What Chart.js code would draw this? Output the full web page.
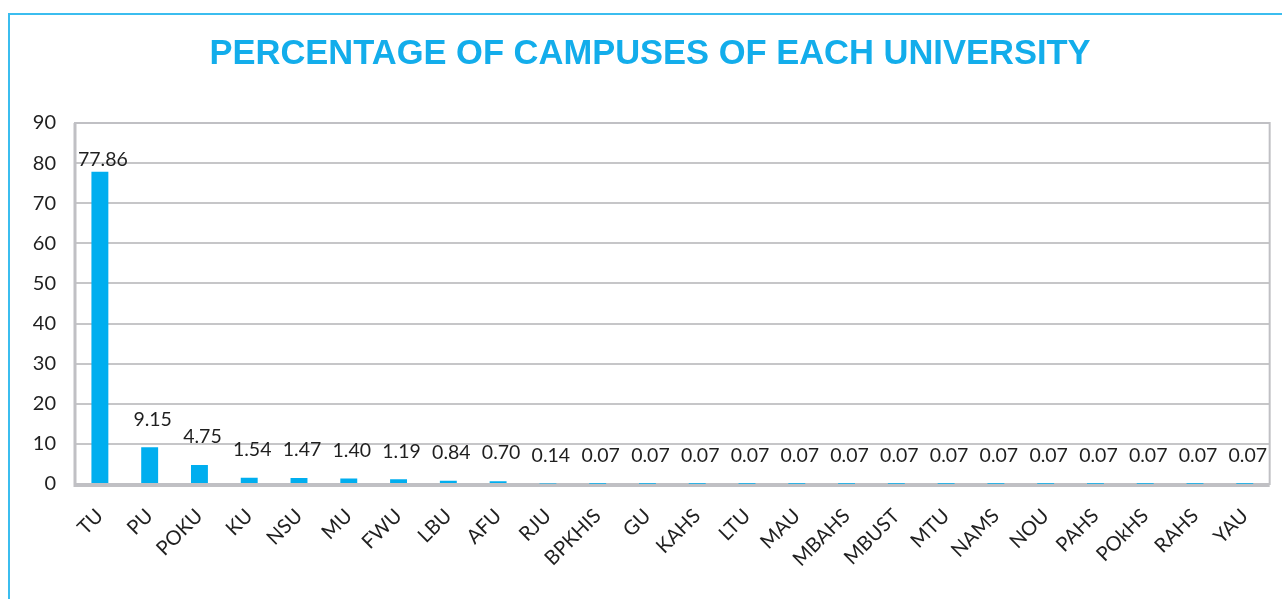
<!DOCTYPE html>
<html>
<head>
<meta charset="utf-8">
<script src="https://cdn.jsdelivr.net/npm/chart.js@4/dist/chart.umd.min.js"></script>
<style>
  html, body { margin: 0; padding: 0; background: #fff; overflow: hidden; }
  #frame { position: absolute; left: 8px; top: 13px; width: 1300px; height: 620px; border-left: 2px solid #3BBDEF; border-top: 2px solid #3BBDEF; box-sizing: border-box; }
  #wrap { position: absolute; left: 0; top: 0; width: 1282px; height: 599px; }
</style>
</head>
<body>
<div id="frame"></div>
<div id="wrap"><canvas id="c" width="1282" height="599"></canvas></div>
<script>
const titleText = "PERCENTAGE OF CAMPUSES OF EACH UNIVERSITY";
const categories = ["TU","PU","POKU","KU","NSU","MU","FWU","LBU","AFU","RJU","BPKHIS","GU","KAHS","LTU","MAU","MBAHS","MBUST","MTU","NAMS","NOU","PAHS","POkHS","RAHS","YAU"];
const values = [77.86,9.15,4.75,1.54,1.47,1.40,1.19,0.84,0.70,0.14,0.07,0.07,0.07,0.07,0.07,0.07,0.07,0.07,0.07,0.07,0.07,0.07,0.07,0.07];
const valueLabels = ["77.86","9.15","4.75","1.54","1.47","1.40","1.19","0.84","0.70","0.14","0.07","0.07","0.07","0.07","0.07","0.07","0.07","0.07","0.07","0.07","0.07","0.07","0.07","0.07"];
const yTicks = [0,10,20,30,40,50,60,70,80,90];

const labelPlugin = {
  id: 'valLabels',
  afterDatasetsDraw(chart) {
    const ctx = chart.ctx;
    const meta = chart.getDatasetMeta(0);
    ctx.save();
    ctx.font = '19.5px Lato';
    ctx.fillStyle = '#1f1f1f';
    ctx.textAlign = 'center';
    ctx.textBaseline = 'middle';
    meta.data.forEach((bar, i) => {
      const h = bar.base - bar.y;
      const off = h > 200 ? 12 : 28;
      ctx.fillText(valueLabels[i], bar.x + 3, bar.y - off);
    });
    ctx.restore();
  }
};
const borderPlugin = {
  id: 'plotBorder',
  beforeDatasetsDraw(chart) {
    const a = chart.chartArea, ctx = chart.ctx;
    ctx.save();
    ctx.strokeStyle = '#C0C0C4';
    ctx.lineWidth = 2;
    ctx.strokeRect(a.left, a.top, a.right - a.left, a.bottom - a.top);
    ctx.lineWidth = 3;
    ctx.beginPath();
    ctx.moveTo(a.left, a.top); ctx.lineTo(a.left, a.bottom + 1.5); ctx.lineTo(a.right, a.bottom + 1.5);
    ctx.stroke();
    ctx.restore();
  }
};

new Chart(document.getElementById('c'), {
  type: 'bar',
  data: {
    labels: categories,
    datasets: [{ data: values, backgroundColor: '#00AEEF', borderWidth: 0, categoryPercentage: 1, barPercentage: 0.34 }]
  },
  options: {
    responsive: false,
    animation: false,
    layout: { padding: { left: 30, right: 12, top: 0, bottom: 0 } },
    plugins: {
      legend: { display: false },
      tooltip: { enabled: false },
      title: {
        display: true, text: titleText, color: '#13ADEB',
        font: { family: 'Liberation Sans', size: 34.5, weight: 'bold', lineHeight: 1.2 },
        padding: { top: 34, bottom: 47.6 }
      }
    },
    scales: {
      y: {
        min: 0, max: 90,
        afterFit(s) { s.width = 45; },
        afterBuildTicks(s) { s.ticks = yTicks.map(v => ({ value: v })); },
        grid: { color: '#C6C6C8', lineWidth: 2, drawTicks: false },
        border: { display: false },
        ticks: { padding: 19, color: '#1f1f1f', font: { family: 'Lato', size: 20 } }
      },
      x: {
        afterFit(s) { s.height = 115; },
        grid: { display: false, drawTicks: false },
        border: { display: false },
        ticks: { minRotation: 45, maxRotation: 45, padding: 20, autoSkip: false, color: '#1f1f1f', font: { family: 'Lato', size: 20 } }
      }
    }
  },
  plugins: [borderPlugin, labelPlugin]
});
</script>
</body>
</html>
